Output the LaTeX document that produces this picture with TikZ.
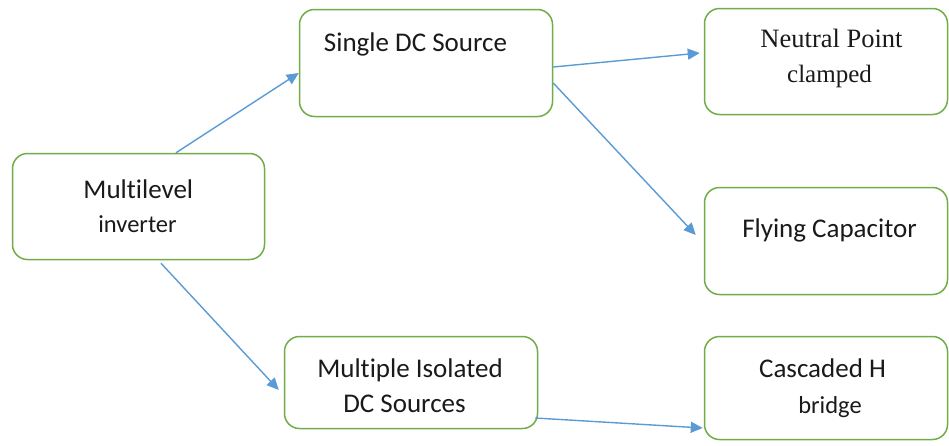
\documentclass[tikz,border=0pt]{standalone}
\usepackage{fontspec}
\setmainfont{Carlito}[Ligatures=NoCommon]
\newfontfamily\serifface{Liberation Serif}
\usetikzlibrary{arrows.meta}
\definecolor{boxgreen}{HTML}{70AD47}
\definecolor{linkblue}{HTML}{5B9BD5}
\definecolor{ink}{HTML}{1A1A1A}
\tikzset{
  box/.style={draw=boxgreen, line width=1.5pt, rounded corners=15pt, fill=white, inner sep=0pt},
  lbl/.style={anchor=base, inner sep=0pt, text=ink, font=\fontsize{27}{30}\selectfont},
  lblsmall/.style={lbl, font=\fontsize{24.5}{28}\selectfont},
  lblserif/.style={lbl, font=\serifface\fontsize{26.5}{29}\selectfont},
  link/.style={draw=linkblue, line width=1.4pt, -{Triangle[length=12pt,width=11pt]}}
}
\begin{document}
\begin{tikzpicture}[x=1pt, y=-1pt]
\useasboundingbox (0,0) rectangle (949,445);

% boxes
\node[box, minimum width=252pt, minimum height=106pt] (mi)   at (138.5,206.5) {};
\node[box, minimum width=253pt, minimum height=107pt] (sdc)  at (426,63)      {};
\node[box, minimum width=243pt, minimum height=106pt] (npc)  at (826,61.5)    {};
\node[box, minimum width=243pt, minimum height=107pt] (fc)   at (826,241)     {};
\node[box, minimum width=253pt, minimum height=92pt]  (mids) at (411,382.5)   {};
\node[box, minimum width=243pt, minimum height=103pt] (ch)   at (826,388)     {};

% labels
\node[lbl]      (mi1)   at (138.3,198) {Multilevel};
\node[lblsmall] (mi2)   at (137.5,232) {inverter};
\node[lbl]      (sdc1)  at (415.5,51)  {Single DC Source};
\node[lblserif] (npc1)  at (831.5,47)  {Neutral Point};
\node[lblserif] (npc2)  at (829.5,82)  {\fontsize{25}{28}\selectfont clamped};
\node[lbl]      (fc1)   at (829.5,237) {Flying Capacitor};
\node[lbl]      (mids1) at (410,377)   {Multiple Isolated};
\node[lbl]      (mids2) at (404.5,412) {DC Sources};
\node[lbl]      (ch1)   at (822.5,377) {Cascaded H};
\node[lblsmall] (ch2)   at (830,413)   {bridge};

% connectors
\draw[link] ([xshift=37.5pt]mi.north) -- ([yshift=-10pt]sdc.west);
\draw[link] ([yshift=-4pt]sdc.east) -- ([xshift=-4pt,yshift=8.5pt]npc.west);
\draw[link] ([yshift=-20pt]sdc.east) -- ([xshift=-8pt,yshift=6pt]fc.west);
\draw[link] ([xshift=22.5pt,yshift=-3pt]mi.south) -- ([xshift=-5pt,yshift=-7.5pt]mids.west);
\draw[link] ([xshift=-3pt,yshift=-35.5pt]mids.east) -- ([xshift=-1pt,yshift=-40pt]ch.west);
\end{tikzpicture}
\end{document}
